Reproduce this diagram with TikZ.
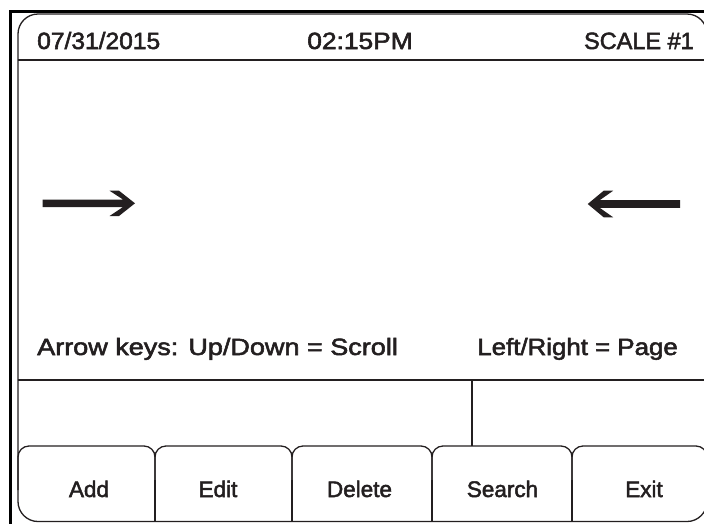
\documentclass[tikz,border=0pt]{standalone}
\usepackage{fontspec}
\setmainfont{Liberation Sans}[UprightFeatures={FakeBold=2.2}]
\definecolor{ink}{HTML}{231F20}
\begin{document}
\begin{tikzpicture}[x=1pt,y=-1pt,
  frame/.style={draw=ink,line width=1.3pt},
  outer/.style={draw=black,line width=2.6pt},
  lbl/.style={text=ink,font=\fontsize{23.5}{26}\selectfont,inner sep=0pt},
  btn/.style={text=ink,font=\fontsize{22.5}{26}\selectfont,inner sep=0pt,anchor=base},
  arrowfill/.style={fill=ink,draw=none}]
\useasboundingbox (0,0) rectangle (704,523);
% outer thick frame
\coordinate (otl) at (10.5,11.3);
\coordinate (otr) at (706,11.3);
\coordinate (obl) at (10.5,524);
\draw[outer] (otr) -- (otl) -- (obl);
% inner rounded screen
\draw[frame,rounded corners=20pt] (18,14) rectangle (707,521.5);
% header and footer lines
\coordinate (h1) at (18,60); \coordinate (h2) at (707,60);
\draw[frame] (h1) -- (h2);
\coordinate (f1) at (18,380); \coordinate (f2) at (707,380);
\draw[frame] (f1) -- (f2);
\coordinate (d1) at (472,380); \coordinate (d2) at (472,446);
\draw[frame] (d1) -- (d2);
% buttons
\foreach \xl/\xr in {18/155,155/292,292/432,432/572,572/707}{
  \draw[frame,rounded corners=11pt] (\xl,490) -- (\xl,446) -- (\xr,446) -- (\xr,490);
}
\foreach \xd in {155,292,432,572}{
  \draw[frame] (\xd,480) -- (\xd,521.5);
}
% header texts
\node[lbl,anchor=base west] (date) at (37,49) {\scalebox{1.046}[1]{07/31/2015}};
\node[lbl,anchor=base] (time) at (360,49) {\scalebox{1.12}[1]{02:15PM}};
\node[lbl,anchor=base east] (scale) at (694,49) {SCALE \#1};
% arrows
\fill[arrowfill] (42.7,199.5) -- (123,199.5) -- (109.5,190.7) -- (119,190.7) -- (135,203.3) -- (119,216) -- (109.5,216) -- (123,207) -- (42.7,207) -- cycle;
\fill[arrowfill] (680,200.2) -- (599.7,200.2) -- (613.2,190.7) -- (603.7,190.7) -- (587.7,204) -- (603.7,217.3) -- (613.2,217.3) -- (599.7,207.8) -- (680,207.8) -- cycle;
% info line
\node[lbl,anchor=base west] (keys) at (37,355) {\scalebox{1.15}[1]{Arrow keys: Up/Down = Scroll}};
\node[lbl,anchor=base east] (page) at (678,355) {\scalebox{1.10}[1]{Left/Right = Page}};
% button labels
\node[btn] (add) at (89,497) {Add};
\node[btn] (edit) at (218,497) {Edit};
\node[btn] (del) at (359.5,497) {Delete};
\node[btn] (search) at (502.5,497) {Search};
\node[btn] (exit) at (644,497) {Exit};
\end{tikzpicture}
\end{document}
